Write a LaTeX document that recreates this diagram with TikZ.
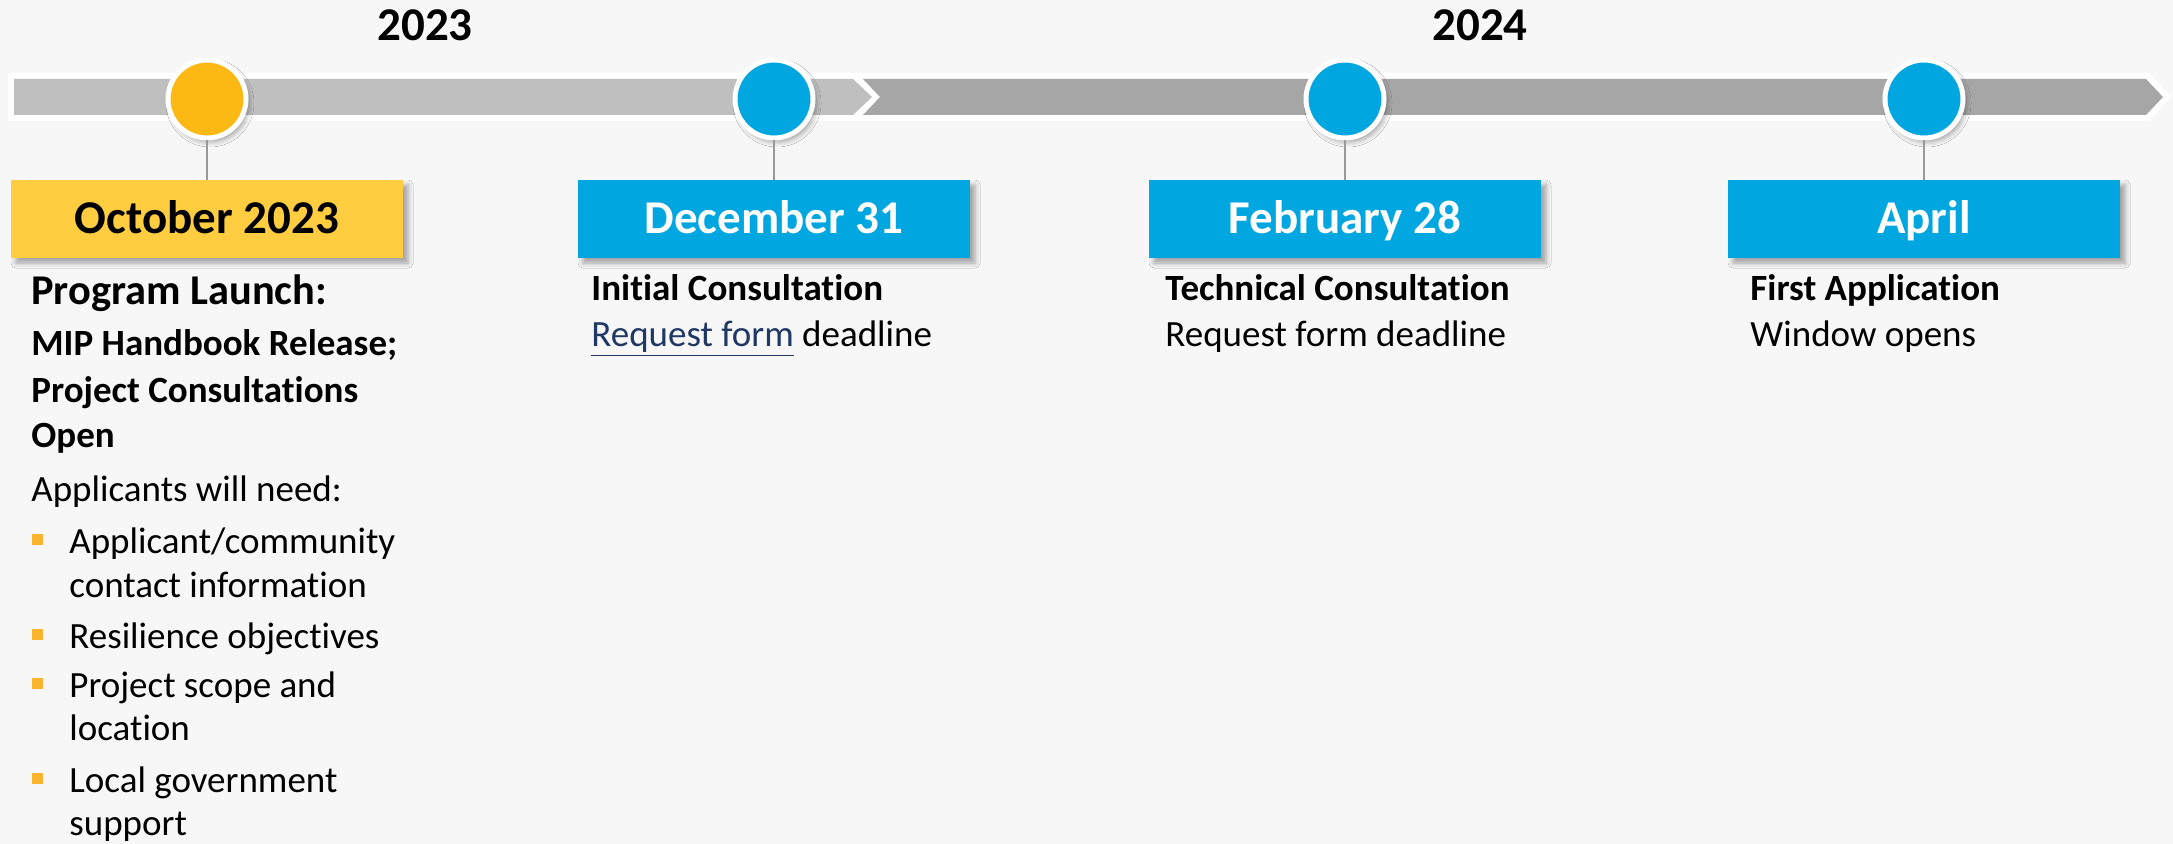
\documentclass[tikz,border=0pt]{standalone}
\usepackage{fontspec}
\setmainfont{Carlito}[Ligatures=NoCommon]
\usepackage{tikz}
\usetikzlibrary{shadows.blur}
\definecolor{Paper}{HTML}{F7F7F7}
\definecolor{BarLight}{HTML}{BFBFBF}
\definecolor{BarDark}{HTML}{A6A6A6}
\definecolor{Sky}{HTML}{00A6DF}
\definecolor{Amber}{HTML}{FDB913}
\definecolor{Butter}{HTML}{FFCD3F}
\definecolor{Bullet}{HTML}{F9B52D}
\definecolor{Link}{HTML}{1F3864}
\newcommand{\BigBold}{\fontsize{23.5pt}{28pt}\selectfont\bfseries}
\newcommand{\BodyText}{\fontsize{18.5pt}{22pt}\selectfont}
\newcommand{\Milestone}[5]{% name x dot-colour box-style label
\node[dot,fill=#3] (dot#1) at (#2,99) {};
\node[#4] (box#1) at (#2,219) {#5};
\draw[stem] (dot#1) -- (box#1);
}

\begin{document}
\begin{tikzpicture}[x=0.5pt,y=-0.5pt,
  dot/.style={circle,draw=white,line width=2.5pt,minimum size=39pt,inner sep=0pt,
    blur shadow={shadow xshift=1.5pt,shadow yshift=-2pt,shadow blur radius=2.5pt,shadow opacity=35}},
  datebox/.style={rectangle,minimum width=196pt,minimum height=39pt,inner sep=0pt,
    font=\BigBold,text height=15pt,text depth=0pt,
    blur shadow={shadow xshift=2.5pt,shadow yshift=-2.5pt,shadow blur radius=2.5pt,shadow opacity=35}},
  yellowbox/.style={datebox,fill=Butter,text=black},
  bluebox/.style={datebox,fill=Sky,text=white},
  stem/.style={draw=black!40,line width=0.6pt},
  txt/.style={anchor=base west,inner sep=0pt,font=\BodyText},
  bullet/.style={rectangle,fill=Bullet,minimum size=5.5pt,inner sep=0pt}]
\useasboundingbox (0,0) rectangle (2173,844);
\fill[Paper] (0,0) rectangle (2173,844);
% years
\node[anchor=base,inner sep=0pt,font=\BigBold] (y23) at (425,41) {2023};
\node[anchor=base,inner sep=0pt,font=\BigBold] (y24) at (1480,41) {2024};
% bar: white rim, then two chevron segments
\fill[white] (8,73) -- (2149,73) -- (2171,97) -- (2149,121) -- (8,121) -- cycle;
\fill[BarLight] (14,79) -- (853,79) -- (872,97) -- (853,115) -- (14,115) -- cycle;
\fill[BarDark] (863,79) -- (2146,79) -- (2163,97) -- (2146,115) -- (863,115) -- (880,97) -- cycle;
% milestones
\Milestone{oct}{207}{Amber}{yellowbox}{October 2023}
\Milestone{dec}{774}{Sky}{bluebox}{December 31}
\Milestone{feb}{1345}{Sky}{bluebox}{February 28}
\Milestone{apr}{1924}{Sky}{bluebox}{April}
% October column
\node[txt,font=\fontsize{21.2pt}{25pt}\selectfont\bfseries] (launch) at (31,305) {Program Launch:};
\node[txt,font=\BodyText\bfseries] (mip) at (31,356) {MIP Handbook Release;};
\node[txt,font=\BodyText\bfseries] (cons) at (31,403) {Project Consultations};
\node[txt,font=\BodyText\bfseries] (open) at (31,447) {Open};
\node[txt] (need) at (31,502) {Applicants will need:};
\foreach \y in {539,634,683,778}
  \node[bullet] at (37.5,\y) {};
\node[txt] (need1a) at (69,553) {Applicant/community};
\node[txt] (need1b) at (69,597) {contact information};
\node[txt] (need2) at (69,648) {Resilience objectives};
\node[txt] (need3a) at (69,697) {Project scope and};
\node[txt] (need3b) at (69,740) {location};
\node[txt] (need4a) at (69,792) {Local government};
\node[txt] (need4b) at (69,835) {support};
% December column
\node[txt,font=\BodyText\bfseries] (init) at (591,301) {Initial Consultation};
\node[txt] (initform) at (591,347) {\textcolor{Link}{\underline{Request form}} deadline};
% February column
\node[txt,font=\BodyText\bfseries] (tech) at (1165,301) {Technical Consultation};
\node[txt] (techform) at (1165,347) {Request form deadline};
% April column
\node[txt,font=\BodyText\bfseries] (first) at (1750,301) {First Application};
\node[txt] (window) at (1750,347) {Window opens};
\end{tikzpicture}
\end{document}
